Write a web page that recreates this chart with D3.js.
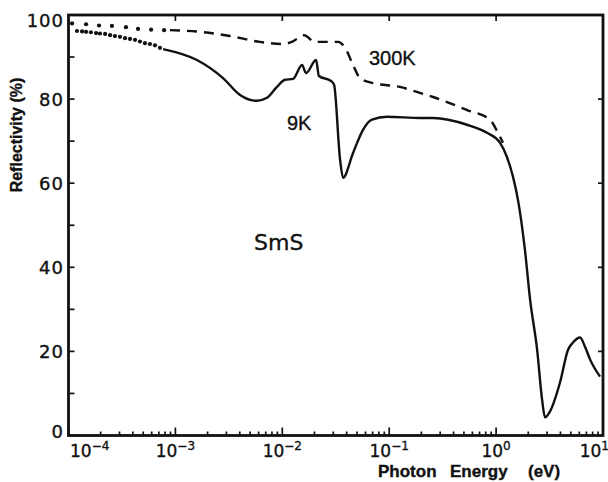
<!DOCTYPE html>
<html>
<head>
<meta charset="utf-8">
<script src="https://cdn.jsdelivr.net/npm/d3@7"></script>
<style>
  body { margin: 0; background: #fff; }
  text { fill: #111; stroke: #111; stroke-width: 0.35px; }
</style>
</head>
<body>
<div id="chart"></div>
<script>
// photon energy (eV) / reflectivity (%)
var lowT_dotsE = [1.20e-4, 1.34e-4, 1.46e-4, 1.62e-4, 1.81e-4, 1.97e-4, 2.20e-4, 2.45e-4, 2.72e-4,
                  3.03e-4, 3.38e-4, 3.76e-4, 4.19e-4, 4.66e-4, 5.19e-4, 5.78e-4, 6.44e-4, 7.17e-4];
var lowT_dotsR = [96.2, 96.1, 96.0, 95.9, 95.7, 95.6, 95.5, 95.2, 95.0,
                  94.8, 94.5, 94.3, 94.1, 93.7, 93.3, 93.1, 92.8, 92.2];

var lowT_E = [7.66e-4, 1.59e-3, 2.79e-3, 4.02e-3, 5.79e-3, 7.19e-3, 8.91e-3, 1.06e-2, 1.26e-2, 1.53e-2,
              1.67e-2, 2.07e-2, 2.20e-2, 2.86e-2, 3.05e-2, 3.47e-2, 3.70e-2, 4.59e-2, 5.69e-2, 6.90e-2,
              9.55e-2, 0.194, 0.257, 0.535, 0.822, 1.09, 1.26, 1.44, 1.60, 1.86,
              2.08, 2.42, 2.69, 2.87, 3.19, 3.96, 4.71, 5.24, 6.10, 6.79, 7.56, 9.38];
var lowT_R = [91.9, 89.3, 85.0, 81.0, 79.6, 80.3, 82.9, 84.6, 84.8, 88.1,
              86.2, 89.3, 85.5, 84.3, 83.4, 65.6, 61.3, 67.2, 72.7, 75.1,
              75.8, 75.5, 75.5, 73.9, 72.0, 69.6, 66.3, 61.5, 56.1, 44.2,
              32.3, 20.4, 8.6, 4.3, 5.7, 12.6, 20.4, 22.1, 23.3, 21.1, 18.1, 14.0];

var roomT_dotsE = [1.08e-4, 1.46e-4, 1.93e-4, 2.55e-4, 3.45e-4, 4.47e-4, 5.92e-4, 7.84e-4];
var roomT_dotsR = [98.0, 97.8, 97.5, 97.4, 97.1, 96.7, 96.5, 96.4];

var roomT_E = [8.9e-4, 1.70e-3, 3.24e-3, 6.18e-3, 1.02e-2, 1.23e-2, 1.60e-2, 2.02e-2, 2.79e-2, 3.32e-2,
               3.87e-2, 4.59e-2, 5.33e-2, 7.07e-2, 0.126, 0.182, 0.257, 0.535, 0.877, 1.04, 1.16];
var roomT_R = [96.4, 96.0, 95.0, 93.6, 93.1, 93.6, 95.2, 93.6, 93.6, 93.6,
               92.2, 88.1, 85.0, 83.8, 82.9, 81.7, 80.5, 77.4, 75.1, 72.0, 69.6];

var yTicks = [0, 20, 40, 60, 80, 100];
var decades = [1e-4, 1e-3, 1e-2, 1e-1, 1e0, 1e1];
var decadeExp = ["-4", "-3", "-2", "-1", "0", "1"];

function zip(a, b) { return a.map(function (d, i) { return [d, b[i]]; }); }

var svg = d3.select("#chart").append("svg")
    .attr("width", 608)
    .attr("height", 482);

var x = d3.scaleLog().domain([1e-4, 10]).range([68.5, 603]);
var y = d3.scaleLinear().domain([0, 100]).range([435.5, 15]);

var ink = "#111";

// ticks
var g = svg.append("g").attr("stroke", ink).attr("stroke-width", 1.7);

g.selectAll(".ytl").data(d3.range(0, 101, 10)).enter().append("line")
    .attr("x1", x(1e-4)).attr("x2", x(1e-4) + 6)
    .attr("y1", function (d) { return y(d); }).attr("y2", function (d) { return y(d); });

g.selectAll(".ytr").data([20, 40, 60, 80]).enter().append("line")
    .attr("x1", x(10)).attr("x2", x(10) - 5)
    .attr("y1", function (d) { return y(d); }).attr("y2", function (d) { return y(d); });

g.selectAll(".xtb").data(x.ticks()).enter().append("line")
    .attr("x1", function (d) { return x(d); }).attr("x2", function (d) { return x(d); })
    .attr("y1", y(0))
    .attr("y2", function (d) {
        var isMajor = Math.abs(Math.log10(d) - Math.round(Math.log10(d))) < 1e-6;
        return y(0) - (isMajor ? 8 : 4);
    });

g.selectAll(".xtt").data(decades.slice(1, 5)).enter().append("line")
    .attr("x1", function (d) { return x(d); }).attr("x2", function (d) { return x(d); })
    .attr("y1", y(100)).attr("y2", y(100) + 6);

// frame
svg.append("rect")
    .attr("x", x(1e-4)).attr("y", y(100))
    .attr("width", x(10) - x(1e-4)).attr("height", y(0) - y(100))
    .attr("fill", "none").attr("stroke", ink).attr("stroke-width", 2.8);

// y tick labels
svg.selectAll(".ylab").data(yTicks).enter().append("text")
    .attr("x", 64)
    .attr("y", function (d) { return y(d) + (d === 100 ? 6 : d === 0 ? -4 : 0); })
    .attr("dy", "0.36em")
    .attr("text-anchor", "end")
    .style("font-family", "DejaVu Sans")
    .style("font-size", "18px")
    .style("letter-spacing", "1px")
    .text(function (d) { return d; });

// x tick labels
var xl = svg.selectAll(".xlab").data(decades).enter().append("text")
    .attr("x", function (d, i) { return i === 0 ? 70 : i === decades.length - 1 ? 609 : x(d); })
    .attr("y", 457)
    .attr("text-anchor", function (d, i) { return i === 0 ? "start" : i === decades.length - 1 ? "end" : "middle"; })
    .style("font-family", "DejaVu Sans")
    .style("font-size", "17px");
xl.append("tspan").text("10");
xl.append("tspan").attr("dy", -7).style("font-size", "12px")
    .text(function (d, i) { return decadeExp[i].replace("-", "\u2212"); });

// axis titles
svg.append("text")
    .attr("transform", "translate(22,135) rotate(-90)")
    .attr("text-anchor", "middle")
    .style("font-family", "Liberation Sans")
    .style("font-weight", "bold")
    .style("font-size", "16px")
    .text("Reflectivity (%)");

[["Photon", 378], ["Energy", 450], ["(eV)", 528]].forEach(function (w) {
    svg.append("text")
        .attr("x", w[1]).attr("y", 477)
        .style("font-family", "Liberation Sans")
        .style("font-weight", "bold")
        .style("font-size", "17px")
        .text(w[0]);
});

// curves
var line = d3.line()
    .x(function (d) { return x(d[0]); })
    .y(function (d) { return y(d[1]); })
    .curve(d3.curveMonotoneX);

svg.append("path")
    .datum(zip(lowT_E, lowT_R))
    .attr("d", line)
    .attr("fill", "none").attr("stroke", ink).attr("stroke-width", 2.4);

svg.append("path")
    .datum(zip(roomT_E, roomT_R))
    .attr("d", line)
    .attr("fill", "none").attr("stroke", ink).attr("stroke-width", 2.4)
    .attr("stroke-dasharray", "10,7");

svg.selectAll(".dot9").data(zip(lowT_dotsE, lowT_dotsR)).enter().append("circle")
    .attr("cx", function (d) { return x(d[0]); })
    .attr("cy", function (d) { return y(d[1]); })
    .attr("r", 2.1).attr("fill", ink);

svg.selectAll(".dot300").data(zip(roomT_dotsE, roomT_dotsR)).enter().append("circle")
    .attr("cx", function (d) { return x(d[0]); })
    .attr("cy", function (d) { return y(d[1]); })
    .attr("r", 2.1).attr("fill", ink);

// in-plot labels
svg.append("text").attr("x", 369).attr("y", 65)
    .style("font-family", "Liberation Sans").style("font-size", "20px").text("300K");
svg.append("text").attr("x", 287).attr("y", 130)
    .style("font-family", "Liberation Sans").style("font-size", "20px").text("9K");
svg.append("text").attr("x", 254).attr("y", 250)
    .style("font-family", "DejaVu Sans").style("font-size", "22px").text("SmS");
</script>
</body>
</html>
